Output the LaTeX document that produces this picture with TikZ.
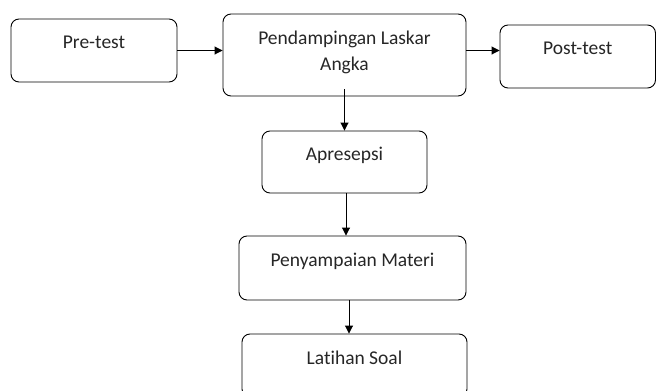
\documentclass[tikz,border=0pt]{standalone}
\usepackage{fontspec}
\setmainfont{Carlito}[Ligatures=NoCommon]
\usepackage{tikz}
\usetikzlibrary{arrows.meta}
\usetikzlibrary{positioning,calc}

\begin{document}
\begin{tikzpicture}[x=1pt,y=1pt,
  box/.style={draw,line width=0.9pt,rounded corners=8pt,align=center,
    text=black!85,font=\fontsize{19.5}{26}\selectfont,text depth=16pt,inner sep=0pt},
  arr/.style={-{Triangle[length=8pt,width=8pt]},line width=0.9pt}]
  \useasboundingbox (0,0) rectangle (657,-391);
  \clip (0,0) rectangle (657,-391);
  \node[box,minimum width=166pt,minimum height=63pt] (pre) at (94,-50.5) {Pre-test};
  \node[box,minimum width=243pt,minimum height=82pt,text depth=9pt] (pend) at (344.5,-55) {Pendampingan Laskar\\Angka};
  \node[box,minimum width=155.5pt,minimum height=63pt] (post) at (577.75,-56.5) {Post-test};
  \node[box,minimum width=165pt,minimum height=62pt] (apr) at (344.5,-162) {Apresepsi};
  \node[box,minimum width=227pt,minimum height=64pt] (pen) at (352.5,-268) {Penyampaian Materi};
  \node[box,minimum width=225pt,minimum height=63pt] (lat) at (354.5,-365.5) {Latihan Soal};
  \draw[arr] (pre.east) -- (pre.east -| pend.west);
  \draw[arr] (pend.east |- pre.east) -- (post.west |- pre.east);
  \draw[arr] ([yshift=7pt]pend.south) -- (apr.north);
  \draw[arr] ([xshift=1.5pt]apr.south) -- ([xshift=1.5pt]apr.south |- pen.north);
  \draw[arr] ([xshift=-3.5pt]pen.south) -- ([xshift=-3.5pt]pen.south |- lat.north);
\end{tikzpicture}
\end{document}
